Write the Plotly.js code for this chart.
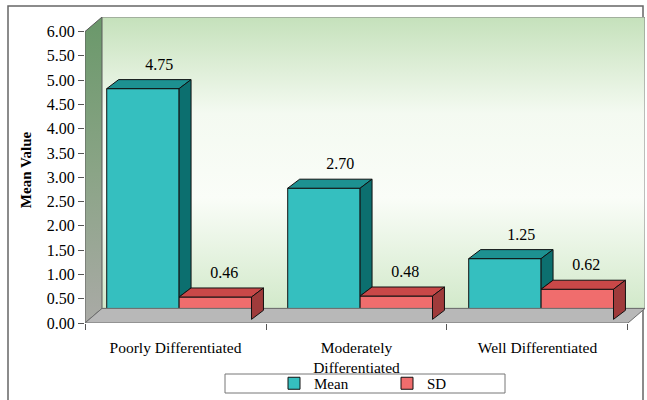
<!DOCTYPE html>
<html>
<head>
<meta charset="utf-8">
<script src="https://cdn.plot.ly/plotly-3.0.1.min.js"></script>
<style>html,body{margin:0;padding:0;background:#fff;}#chart{width:647px;height:400px;}</style>
</head>
<body>
<div id="chart"></div>
<script>
// ---- data ----
const categories = ['Poorly Differentiated', 'Moderately<br>Differentiated', 'Well Differentiated'];
const seriesNames = ['Mean', 'SD'];
const meanValues = [4.75, 2.70, 1.25];
const sdValues = [0.46, 0.48, 0.62];
const yTickVals = [0, 0.5, 1, 1.5, 2, 2.5, 3, 3.5, 4, 4.5, 5, 5.5, 6];
const yTitle = 'Mean Value';

// ---- 3D look (styling constants) ----
const YMAX = 6;
const DW = 0.094, DH = 0.3;       // wall depth (x units, y units)
const BASE = 0.075;               // bars sit slightly behind the front plane
const BAR_W = 0.4, SHIFT = 0.02;  // bar width, pair shift
const DX = 0.066, DY = 0.186;     // bar depth
const FONT = '"Liberation Serif", "Times New Roman", Times, serif';
const nCat = categories.length;

const colors = {
  Mean: {front: '#35bfbf', top: '#1d9191', side: '#0c6f6f'},
  SD:   {front: '#f06d6d', top: '#c94848', side: '#9f3b3b'}
};

const centers = categories.map((c, i) => i + 0.5 + SHIFT);
const meanX0 = centers.map(c => c - BAR_W);
const meanX1 = centers.map(c => c);
const sdX0 = centers.map(c => c);
const sdX1 = centers.map(c => c + BAR_W);

function topFaces(x0, x1, vals) {
  const xs = [], ys = [];
  vals.forEach((v, i) => {
    const t = v + BASE;
    xs.push(x0[i], x1[i], x1[i] + DX, x0[i] + DX, x0[i], null);
    ys.push(t, t, t + DY, t + DY, t, null);
  });
  return {xs, ys};
}
function sideFaces(x1, vals, lows) {
  const xs = [], ys = [];
  vals.forEach((v, i) => {
    const t = v + BASE;
    const b = lows ? Math.max(BASE, lows[i] + BASE) : BASE;
    xs.push(x1[i], x1[i], x1[i] + DX, x1[i] + DX, x1[i], null);
    ys.push(b, t, t + DY, b + DY, b, null);
  });
  return {xs, ys};
}

const traces = [];
// left wall outline
traces.push({type: 'scatter', mode: 'lines', x: [0, 0, DW, DW, 0], y: [0, YMAX, YMAX + DH, DH, 0],
  line: {color: '#5a5a5a', width: 1}, hoverinfo: 'skip', showlegend: false, cliponaxis: false});
// back wall outline
traces.push({type: 'scatter', mode: 'lines', x: [DW, nCat + DW, nCat + DW, DW], y: [DH, DH, YMAX + DH, YMAX + DH],
  line: {color: '#808080', width: 1}, hoverinfo: 'skip', showlegend: false, cliponaxis: false});
// floor
traces.push({type: 'scatter', mode: 'lines', x: [0, nCat, nCat + DW, DW, 0], y: [0, 0, DH, DH, 0],
  fill: 'toself', fillcolor: '#b8b8b8', line: {color: '#6e6e6e', width: 1}, hoverinfo: 'skip', showlegend: false, cliponaxis: false});

// front faces (bars)
traces.push({type: 'bar', name: seriesNames[0], x: centers, y: meanValues, base: BASE, width: BAR_W, offset: -BAR_W,
  marker: {color: colors.Mean.front, line: {color: '#111', width: 1}}, hoverinfo: 'skip'});
traces.push({type: 'bar', name: seriesNames[1], x: centers, y: sdValues, base: BASE, width: BAR_W, offset: 0,
  marker: {color: colors.SD.front, line: {color: '#111', width: 1}}, hoverinfo: 'skip'});

// mean top & (visible) side
let f = topFaces(meanX0, meanX1, meanValues);
traces.push({type: 'scatter', mode: 'lines', x: f.xs, y: f.ys, fill: 'toself', fillcolor: colors.Mean.top,
  line: {color: '#111', width: 1}, hoverinfo: 'skip', showlegend: false});
f = sideFaces(meanX1, meanValues, sdValues);
traces.push({type: 'scatter', mode: 'lines', x: f.xs, y: f.ys, fill: 'toself', fillcolor: colors.Mean.side,
  line: {color: '#111', width: 1}, hoverinfo: 'skip', showlegend: false});
// sd top & side
f = topFaces(sdX0, sdX1, sdValues);
traces.push({type: 'scatter', mode: 'lines', x: f.xs, y: f.ys, fill: 'toself', fillcolor: colors.SD.top,
  line: {color: '#111', width: 1}, hoverinfo: 'skip', showlegend: false});
f = sideFaces(sdX1, sdValues, null);
traces.push({type: 'scatter', mode: 'lines', x: f.xs, y: f.ys, fill: 'toself', fillcolor: colors.SD.side,
  line: {color: '#111', width: 1}, hoverinfo: 'skip', showlegend: false, cliponaxis: false});

// value labels
traces.push({type: 'scatter', mode: 'text', x: centers.map(c => c - BAR_W / 2 + 0.09), y: meanValues.map(v => v + BASE + 0.47),
  text: meanValues.map(v => v.toFixed(2)), textfont: {family: FONT, size: 16, color: '#000'},
  hoverinfo: 'skip', showlegend: false, cliponaxis: false});
traces.push({type: 'scatter', mode: 'text', x: centers.map(c => c + BAR_W / 2 + 0.05), y: sdValues.map(v => v + BASE + 0.47),
  text: sdValues.map(v => v.toFixed(2)), textfont: {family: FONT, size: 16, color: '#000'},
  hoverinfo: 'skip', showlegend: false, cliponaxis: false});

function svgUri(s) { return 'data:image/svg+xml;charset=utf-8,' + encodeURIComponent(s); }
const backSvg = "<svg xmlns='http://www.w3.org/2000/svg' width='100' height='100' viewBox='0 0 100 100' preserveAspectRatio='none'>" +
  "<defs><linearGradient id='g' x1='0' y1='0' x2='0' y2='1'>" +
  "<stop offset='0' stop-color='#c5e1bb'/><stop offset='0.33' stop-color='#f4faf1'/>" +
  "<stop offset='0.62' stop-color='#fafdf8'/><stop offset='1' stop-color='#d2e9ca'/>" +
  "</linearGradient></defs><rect width='100' height='100' fill='url(#g)'/></svg>";
const yTop = YMAX + DH;
const leftSvg = "<svg xmlns='http://www.w3.org/2000/svg' width='100' height='100' viewBox='0 0 100 100' preserveAspectRatio='none'>" +
  "<defs><linearGradient id='h' x1='0' y1='0' x2='0' y2='1'>" +
  "<stop offset='0' stop-color='#6a986a'/><stop offset='0.5' stop-color='#8aa486'/><stop offset='1' stop-color='#aaaaa6'/>" +
  "</linearGradient></defs><polygon points='0," + (DH / yTop * 100) + " 0,100 100," + (YMAX / yTop * 100) + " 100,0' fill='url(#h)'/></svg>";

const W = 647, H = 400, ML = 85, MR = 2, MT = 17, MB = 77;
const PW = W - ML - MR, PH = H - MT - MB;
const px2x = p => (p - ML) / PW;
const py2y = p => (H - MB - p) / PH;

const layout = {
  width: W, height: H,
  margin: {l: ML, r: MR, t: MT, b: MB, pad: 0},
  paper_bgcolor: '#ffffff', plot_bgcolor: '#ffffff',
  showlegend: true,
  barmode: 'overlay',
  font: {family: FONT, color: '#000'},
  xaxis: {
    range: [0, nCat + DW], showgrid: false, zeroline: false, showline: false, fixedrange: true,
    tickmode: 'array', tickvals: categories.map((c, i) => i + 0.5), ticktext: categories,
    ticks: 'outside', ticklen: 10, tickcolor: 'rgba(0,0,0,0)',
    tickfont: {family: FONT, size: 15.5, color: '#000'},
    minor: {tickmode: 'array', tickvals: categories.map((c, i) => i).concat([nCat]), ticks: 'outside', ticklen: 6, tickcolor: '#555', tickwidth: 1, showgrid: false}
  },
  yaxis: {
    range: [0, YMAX + DH], showgrid: false, zeroline: false, showline: false, fixedrange: true,
    tickmode: 'array', tickvals: yTickVals, tickformat: '.2f',
    ticks: 'outside', ticklen: 6, tickcolor: '#555',
    tickfont: {family: FONT, size: 16, color: '#000'},
    title: {text: '<b>' + yTitle + '</b>', font: {family: FONT, size: 15, color: '#000'}, standoff: 11}
  },
  legend: {
    orientation: 'h', xref: 'container', yref: 'container',
    x: 274 / W, xanchor: 'left', y: 1 - 367 / H, yanchor: 'top',
    bgcolor: 'rgba(0,0,0,0)', borderwidth: 0, entrywidth: 68, entrywidthmode: 'pixels',
    font: {family: FONT, size: 15, color: '#000'}, traceorder: 'normal'
  },
  images: [
    {source: svgUri(backSvg), xref: 'x', yref: 'y', x: DW, y: YMAX + DH, sizex: nCat, sizey: YMAX,
      sizing: 'stretch', layer: 'below', xanchor: 'left', yanchor: 'top'},
    {source: svgUri(leftSvg), xref: 'x', yref: 'y', x: 0, y: YMAX + DH, sizex: DW, sizey: YMAX + DH,
      sizing: 'stretch', layer: 'below', xanchor: 'left', yanchor: 'top'}
  ],
  shapes: [
    {type: 'rect', xref: 'paper', yref: 'paper', x0: px2x(8), x1: px2x(643), y0: py2y(402), y1: py2y(6),
      line: {color: '#666', width: 1.5}, fillcolor: 'rgba(0,0,0,0)', layer: 'below'},
    {type: 'rect', xref: 'paper', yref: 'paper', x0: px2x(225), x1: px2x(505), y0: py2y(393), y1: py2y(374),
      line: {color: '#777', width: 1}, fillcolor: '#ffffff', layer: 'below'}
  ]
};

Plotly.newPlot('chart', traces, layout, {staticPlot: true, displayModeBar: false});
</script>
</body>
</html>
